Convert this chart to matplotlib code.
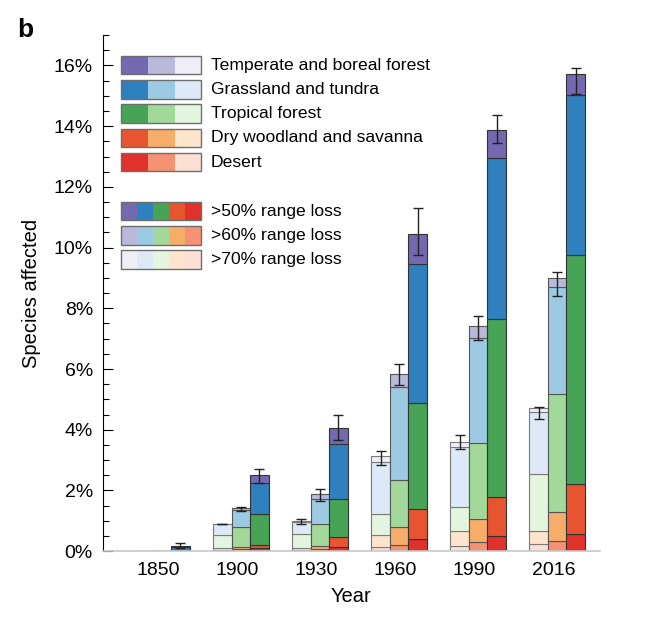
import numpy as np
import matplotlib
matplotlib.use('Agg')
import matplotlib.pyplot as plt
from matplotlib.patches import Rectangle
from matplotlib.ticker import MultipleLocator, FuncFormatter

plt.rcParams['font.family'] = ['Liberation Sans', 'DejaVu Sans']

years = ['1850', '1900', '1930', '1960', '1990', '2016']
biomes = ['Desert', 'Dry woodland and savanna', 'Tropical forest',
          'Grassland and tundra', 'Temperate and boreal forest']
thresholds = ['>70% range loss', '>60% range loss', '>50% range loss']

# segment heights (% of species), one list per biome, values per year
# >70% range loss
desert_70 = [0.0, 0.03, 0.03, 0.12, 0.17, 0.23]
dry_70 = [0.0, 0.07, 0.06, 0.40, 0.49, 0.43]
trop_70 = [0.005, 0.43, 0.46, 0.69, 0.80, 1.88]
grass_70 = [0.005, 0.36, 0.40, 1.72, 1.98, 2.03]
temp_70 = [0.0, 0.02, 0.04, 0.20, 0.15, 0.14]
# >60% range loss
desert_60 = [0.0, 0.07, 0.07, 0.19, 0.31, 0.32]
dry_60 = [0.003, 0.05, 0.10, 0.61, 0.76, 0.96]
trop_60 = [0.005, 0.66, 0.71, 1.55, 2.48, 3.90]
grass_60 = [0.007, 0.57, 0.83, 3.05, 3.47, 3.52]
temp_60 = [0.0, 0.06, 0.17, 0.42, 0.41, 0.30]
# >50% range loss
desert_50 = [0.005, 0.11, 0.13, 0.39, 0.51, 0.55]
dry_50 = [0.005, 0.10, 0.34, 0.99, 1.26, 1.67]
trop_50 = [0.01, 1.01, 1.25, 3.49, 5.89, 7.52]
grass_50 = [0.13, 1.03, 1.81, 4.59, 5.30, 5.28]
temp_50 = [0.01, 0.27, 0.52, 0.99, 0.90, 0.71]

# error bar ranges (low, high) per year
err_low_70 = [np.nan, 0.88, 0.91, 2.84, 3.36, 4.35]
err_high_70 = [np.nan, 0.91, 1.06, 3.30, 3.82, 4.74]
err_low_60 = [np.nan, 1.33, 1.66, 5.47, 6.95, 8.41]
err_high_60 = [np.nan, 1.47, 2.04, 6.16, 7.73, 9.18]
err_low_50 = [0.10, 2.25, 3.66, 9.74, 13.43, 15.06]
err_high_50 = [0.27, 2.71, 4.47, 11.32, 14.37, 15.91]

# colours: [dark (>50%), mid (>60%), light (>70%)] per biome
colors = {
    'Desert': ['#e0312b', '#f49272', '#fde0d4'],
    'Dry woodland and savanna': ['#e6552f', '#f6ad6a', '#fde4cc'],
    'Tropical forest': ['#47a356', '#a2d99a', '#e4f5df'],
    'Grassland and tundra': ['#2f80be', '#9dcae3', '#dde9f6'],
    'Temperate and boreal forest': ['#7468b0', '#bab9dc', '#efeef6'],
}

stacks = [
    [desert_70, dry_70, trop_70, grass_70, temp_70],
    [desert_60, dry_60, trop_60, grass_60, temp_60],
    [desert_50, dry_50, trop_50, grass_50, temp_50],
]
errs = [(err_low_70, err_high_70), (err_low_60, err_high_60), (err_low_50, err_high_50)]
shade_idx = [2, 1, 0]
edge_cols = ['#7a7a7a', '#555555', '#333333']

fig = plt.figure(figsize=(6.5, 6.27), dpi=100)
ax = fig.add_axes([0.158, 0.121, 0.765, 0.823])

x = np.arange(len(years))
w = 0.234

for k in range(3):
    xpos = x + (k - 1) * w
    bottom = np.zeros(len(years))
    for b, name in enumerate(biomes):
        vals = np.array(stacks[k][b])
        ax.bar(xpos, vals, w, bottom=bottom, color=colors[name][shade_idx[k]],
               edgecolor=edge_cols[k], linewidth=0.8, zorder=2)
        bottom = bottom + vals
    lo = np.array(errs[k][0])
    hi = np.array(errs[k][1])
    ok = ~np.isnan(lo)
    ax.errorbar(xpos[ok], bottom[ok], yerr=[bottom[ok] - lo[ok], hi[ok] - bottom[ok]],
                fmt='none', ecolor='#222222', elinewidth=1.0, capsize=3.5,
                capthick=1.0, zorder=3)

ax.set_xlim(-0.747, 5.54)
ax.set_ylim(0, 17)
ax.set_xticks(x - 0.05)
ax.set_xticklabels(years)
ax.tick_params(axis='x', length=0, labelsize=14, pad=7.5)
ax.yaxis.set_major_locator(MultipleLocator(2))
ax.yaxis.set_minor_locator(MultipleLocator(0.5))
ax.yaxis.set_major_formatter(FuncFormatter(lambda v, p: '%d%%' % v))
ax.tick_params(axis='y', which='major', direction='in', length=7, width=0.8,
               labelsize=14, pad=7)
ax.tick_params(axis='y', which='minor', direction='in', length=4, width=0.8)

for s in ['top', 'right']:
    ax.spines[s].set_visible(False)
ax.spines['bottom'].set_color('#c8c8c8')
ax.spines['bottom'].set_linewidth(1.2)
ax.spines['left'].set_linewidth(0.8)

ax.set_xlabel('Year', fontsize=14.5, labelpad=6)
ax.set_ylabel('Species affected', fontsize=14.5, labelpad=9)

# custom legend built from coloured boxes
bx, bw, bh, step = 0.0376, 0.161, 0.0359, 0.0471
tx = 0.217
top1 = 0.960
for r, name in enumerate(biomes[::-1]):
    yb = top1 - r * step - bh
    shades = colors[name]
    for s in range(3):
        ax.add_patch(Rectangle((bx + s * bw / 3, yb), bw / 3, bh, transform=ax.transAxes,
                               facecolor=shades[s], edgecolor='none', zorder=4))
    ax.add_patch(Rectangle((bx, yb), bw, bh, transform=ax.transAxes, facecolor='none',
                           edgecolor='#6e6e6e', linewidth=1.0, zorder=5))
    ax.text(tx, yb + bh / 2, name, transform=ax.transAxes, fontsize=12.6,
            va='center', ha='left')

top2 = 0.677
for r, (label, s) in enumerate(zip(thresholds[::-1], [0, 1, 2])):
    yb = top2 - r * step - bh
    for b, name in enumerate(biomes[::-1]):
        ax.add_patch(Rectangle((bx + b * bw / 5, yb), bw / 5, bh, transform=ax.transAxes,
                               facecolor=colors[name][s], edgecolor='none', zorder=4))
    ax.add_patch(Rectangle((bx, yb), bw, bh, transform=ax.transAxes, facecolor='none',
                           edgecolor='#6e6e6e', linewidth=1.0, zorder=5))
    ax.text(tx, yb + bh / 2, label, transform=ax.transAxes, fontsize=12.6,
            va='center', ha='left')

fig.text(0.026, 0.952, 'b', fontsize=19, fontweight='bold', va='center')

fig.savefig('out.png', dpi=100)
